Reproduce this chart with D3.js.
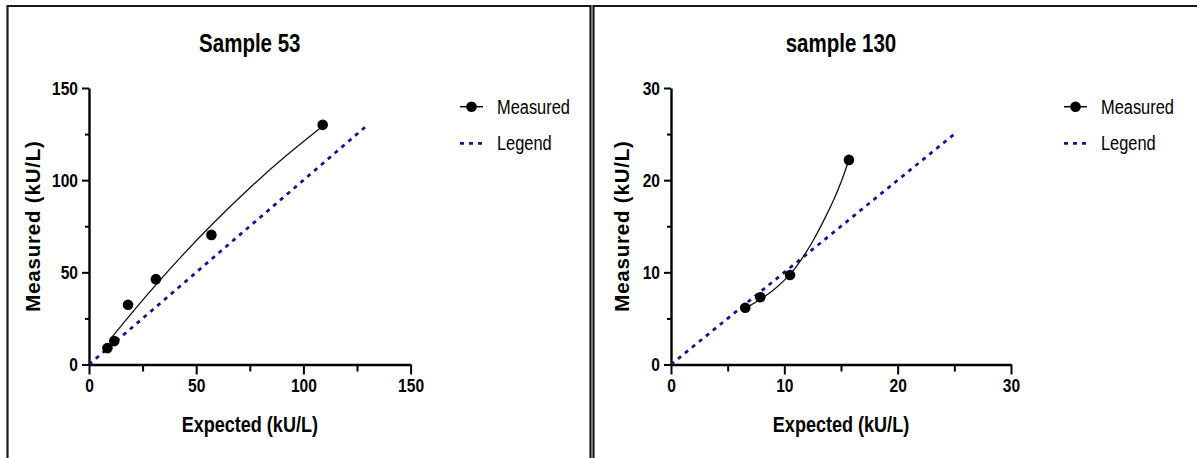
<!DOCTYPE html>
<html>
<head>
<meta charset="utf-8">
<script src="https://cdn.jsdelivr.net/npm/d3@7"></script>
<style>
  body { margin: 0; background: #fff; }
  svg { display: block; }
  text { font-family: "Liberation Sans", Arial, sans-serif; }
</style>
</head>
<body>
<div id="chart"></div>
<script>
// values
var panelTitles = ["Sample 53", "sample 130"];
var legendLabels = ["Measured", "Legend"];

var expected53 = [8.6, 11.8, 18.2, 31.2, 57.1, 109];
var measured53 = [8.9, 12.7, 32.4, 46.3, 70.3, 130];
var fitX53 = [10.3, 20, 31, 43, 57, 76, 91, 109];
var fitY53 = [14.3, 28.1, 43.1, 58.7, 75.8, 97.1, 112.6, 129.3];
var identity53 = [0, 130];
var ticks53 = [0, 50, 100, 150];
var minorTicks53 = [25, 75, 125];

var expected130 = [6.55, 7.88, 10.5, 15.7];
var measured130 = [6.15, 7.3, 9.71, 22.2];
var fitX130 = [6.55, 7.9, 9.2, 10.5, 11.2, 11.9, 12.7, 13.6, 14.4, 15.0, 15.7];
var fitY130 = [6.1, 7.05, 8.2, 9.7, 10.85, 12.1, 13.75, 15.9, 17.95, 19.7, 22.2];
var identity130 = [0, 25];
var ticks130 = [0, 10, 20, 30];
var minorTicks130 = [5, 15, 25];

var W = 1197, H = 458;
var NARROW = 0.82; // no narrow font installed, squeeze Liberation Sans instead
var svg = d3.select("#chart").append("svg").attr("width", W).attr("height", H);

function squeeze(sel) {
  sel.each(function() {
    var len = this.getComputedTextLength();
    d3.select(this).attr("textLength", len * NARROW).attr("lengthAdjust", "spacingAndGlyphs");
  });
}

// panel frames
svg.append("path").attr("d", "M7.5,470 V6 H590.5 V470")
  .attr("fill", "none").attr("stroke", "#1a1a1a").attr("stroke-width", 2.2);
svg.append("path").attr("d", "M593.5,470 V6 H1210")
  .attr("fill", "none").attr("stroke", "#1a1a1a").attr("stroke-width", 2.2);

function drawPanel(p) {
  var x = d3.scaleLinear().domain([0, p.max]).range([p.x0, p.x1]);
  var y = d3.scaleLinear().domain([0, p.max]).range([364.5, 88]);
  var g = svg.append("g");

  // minor ticks
  g.append("g").attr("transform", "translate(0,364.5)")
    .call(d3.axisBottom(x).tickValues(p.minor).tickSize(7).tickFormat(""))
    .call(function(a) { a.select(".domain").remove(); a.selectAll("line").attr("stroke-width", 2); });
  g.append("g").attr("transform", "translate(" + p.x0 + ",0)")
    .call(d3.axisLeft(y).tickValues(p.minor).tickSize(4).tickFormat(""))
    .call(function(a) { a.select(".domain").remove(); a.selectAll("line").attr("stroke-width", 2); });

  // major axes
  var xa = g.append("g").attr("transform", "translate(0,364.5)")
    .call(d3.axisBottom(x).tickValues(p.ticks).tickSize(10).tickSizeOuter(0).tickPadding(4));
  var ya = g.append("g").attr("transform", "translate(" + p.x0 + ",0)")
    .call(d3.axisLeft(y).tickValues(p.ticks).tickSize(7).tickSizeOuter(0).tickPadding(4));
  [xa, ya].forEach(function(a) {
    a.attr("font-family", null);
    a.select(".domain").attr("stroke-width", 2.4);
    a.selectAll(".tick line").attr("stroke-width", 2);
    a.selectAll("text").attr("font-size", 19)
      .attr("font-weight", "bold").attr("fill", "#000").call(squeeze);
  });

  // identity line
  g.append("line")
    .attr("x1", x(p.identity[0])).attr("y1", y(p.identity[0]))
    .attr("x2", x(p.identity[1])).attr("y2", y(p.identity[1]))
    .attr("stroke", "#14148c").attr("stroke-width", 2.8).attr("stroke-dasharray", "4,5");

  // fitted curve
  var line = d3.line().x(function(d, i) { return x(p.fitX[i]); })
    .y(function(d, i) { return y(p.fitY[i]); }).curve(d3.curveBasis);
  g.append("path").attr("d", line(p.fitX)).attr("fill", "none")
    .attr("stroke", "#111").attr("stroke-width", 1.3);

  // measured points
  g.selectAll(".pt").data(p.ex).enter().append("circle")
    .attr("cx", function(d) { return x(d); })
    .attr("cy", function(d, i) { return y(p.me[i]); })
    .attr("r", 5.3).attr("fill", "#000");

  // titles
  g.append("text").attr("x", (p.x0 + p.x1) / 2).attr("y", 52)
    .attr("text-anchor", "middle").attr("font-size", 25).attr("font-weight", "bold")
    .text(p.title).call(squeeze);
  g.append("text").attr("x", (p.x0 + p.x1) / 2).attr("y", 432)
    .attr("text-anchor", "middle").attr("font-size", 22).attr("font-weight", "bold")
    .text("Expected (kU/L)").call(squeeze);
  g.append("text").attr("transform", "translate(" + p.ytx + ",226) rotate(-90)")
    .attr("dy", "0.35em").attr("text-anchor", "middle")
    .attr("font-size", 20.5).attr("font-weight", "bold").attr("letter-spacing", 0.8)
    .text("Measured (kU/L)");

  // legend
  var lg = g.append("g");
  lg.append("line").attr("x1", p.lx).attr("x2", p.lx + 23).attr("y1", 106.7).attr("y2", 106.7)
    .attr("stroke", "#000").attr("stroke-width", 1.5);
  lg.append("circle").attr("cx", p.lx + 11.5).attr("cy", 106.7).attr("r", 5.3).attr("fill", "#000");
  lg.append("line").attr("x1", p.lx).attr("x2", p.lx + 23).attr("y1", 143.3).attr("y2", 143.3)
    .attr("stroke", "#14148c").attr("stroke-width", 2.8).attr("stroke-dasharray", "4,5");
  lg.selectAll(".lt").data(legendLabels).enter().append("text")
    .attr("x", p.lx + 37).attr("y", function(d, i) { return i ? 143.3 : 106.7; })
    .attr("dy", "0.35em").attr("font-size", 20).text(function(d) { return d; }).call(squeeze);
}

drawPanel({ title: panelTitles[0], max: 150, x0: 89, x1: 410.6, ticks: ticks53, minor: minorTicks53,
  ex: expected53, me: measured53, fitX: fitX53, fitY: fitY53, identity: identity53, ytx: 33, lx: 460 });
drawPanel({ title: panelTitles[1], max: 30, x0: 671, x1: 1011, ticks: ticks130, minor: minorTicks130,
  ex: expected130, me: measured130, fitX: fitX130, fitY: fitY130, identity: identity130, ytx: 622, lx: 1064 });
</script>
</body>
</html>
